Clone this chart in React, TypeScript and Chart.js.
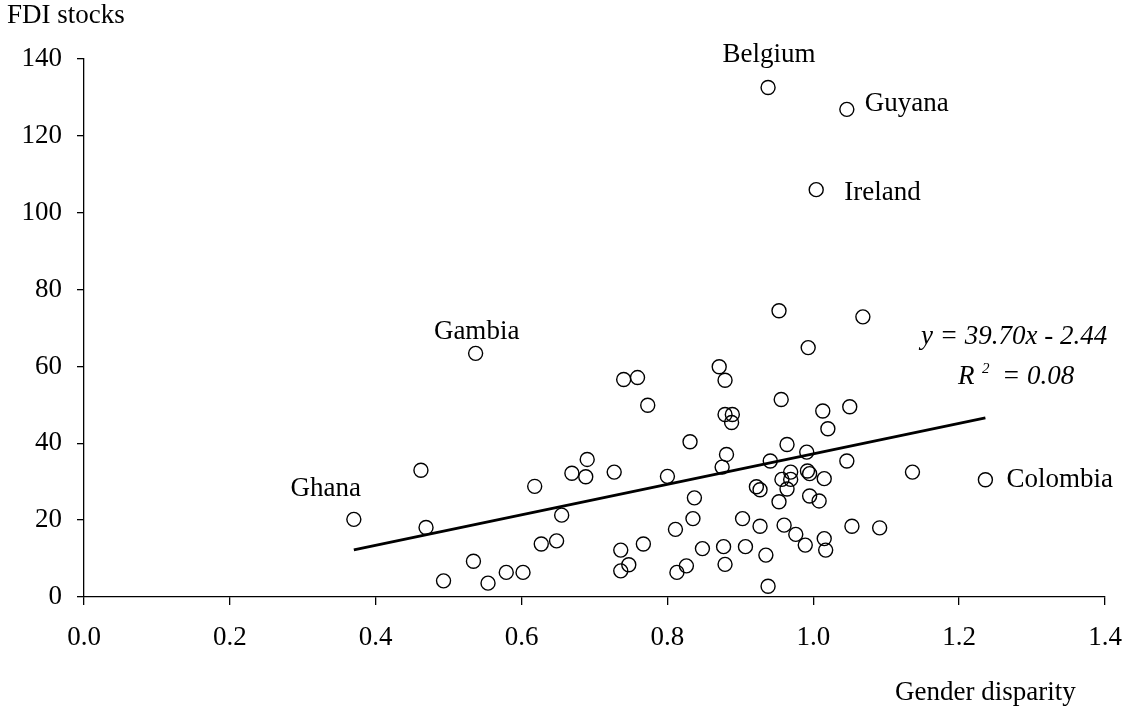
import React, { useEffect, useRef } from "react";
import { Chart, registerables } from "chart.js";

Chart.register(...registerables);

// Unlabelled countries: gender disparity (x) and FDI stocks (y)
const genderDisparity = [
  0.462, 0.469, 0.493, 0.534, 0.554, 0.579, 0.602, 0.618, 0.627, 0.648,
  0.655, 0.669, 0.688, 0.690, 0.727, 0.736, 0.736, 0.747, 0.740, 0.759,
  0.773, 0.767, 0.800, 0.811, 0.813, 0.826, 0.831, 0.837, 0.835, 0.848,
  0.871, 0.879, 0.879, 0.889, 0.888, 0.881, 0.875, 0.877, 0.879, 0.907,
  0.903, 0.922, 0.927, 0.927, 0.935, 0.938, 0.941, 0.953, 0.956, 0.957,
  0.953, 0.960, 0.964, 0.964, 0.969, 0.969, 0.976, 0.989, 0.991, 0.993,
  0.992, 0.995, 0.995, 1.008, 1.013, 1.015, 1.020, 1.015, 1.017, 1.046,
  1.050, 1.053, 1.068, 1.091, 1.136,
];
const fdiStocks = [
  33.0, 18.1, 4.2, 9.3, 3.6, 6.4, 6.4, 28.8, 13.8, 14.6,
  21.3, 32.2, 31.3, 35.8, 32.5, 12.2, 6.8, 8.4, 56.6, 57.1,
  49.9, 13.8, 31.4, 17.6, 6.4, 8.1, 40.4, 25.8, 20.4, 12.6,
  59.9, 56.4, 47.5, 47.5, 45.4, 37.1, 33.8, 13.1, 8.5, 13.1,
  20.4, 28.7, 27.9, 18.4, 10.9, 2.8, 35.4, 74.5, 51.4, 30.6,
  24.8, 18.7, 28.1, 39.7, 32.5, 30.6, 16.3, 13.5, 37.7, 64.9,
  32.8, 32.1, 26.3, 25.0, 48.4, 30.8, 43.8, 15.2, 12.2, 35.4,
  49.5, 18.4, 72.9, 18.0, 32.5,
];

// Labelled countries
const labelNames = ["Ghana", "Gambia", "Belgium", "Guyana", "Ireland", "Colombia"];
const labelX = [0.370, 0.537, 0.938, 1.046, 1.004, 1.236];
const labelY = [20.2, 63.4, 132.6, 126.9, 106.0, 30.5];

// Trend line (from the equation shown)
const trendSlope = 39.70;
const trendIntercept = -2.44;
const equationText = "y = 39.70x - 2.44";
const r2Text = "= 0.08";

const xTicks = [0, 0.2, 0.4, 0.6, 0.8, 1.0, 1.2, 1.4];
const yTicks = [0, 20, 40, 60, 80, 100, 120, 140];
const xTitle = "Gender disparity";
const yTitle = "FDI stocks";

const FONT = "'Liberation Serif', 'Times New Roman', serif";
const FS = 27;

const labelPlacement: Record<string, { dx: number; dy: number; align: CanvasTextAlign }> = {
  Ghana: { dx: -28, dy: -30, align: "center" },
  Gambia: { dx: 1, dy: -21, align: "center" },
  Belgium: { dx: 1, dy: -33, align: "center" },
  Guyana: { dx: 18, dy: -5, align: "left" },
  Ireland: { dx: 28, dy: 3, align: "left" },
  Colombia: { dx: 21, dy: 0, align: "left" },
};

export default function App() {
  const canvasRef = useRef<HTMLCanvasElement | null>(null);

  useEffect(() => {
    const canvas = canvasRef.current;
    if (!canvas) return;

    const allX = genderDisparity.concat(labelX);
    const xMin = Math.min(...allX);
    const xMax = Math.max(...allX);

    const textPlugin = {
      id: "textPlugin",
      afterDraw(chart: any) {
        const ctx = chart.ctx;
        ctx.save();
        ctx.fillStyle = "#000";
        ctx.textBaseline = "middle";
        // axis titles
        ctx.font = `${FS}px ${FONT}`;
        ctx.textAlign = "left";
        ctx.fillText(yTitle, 7, 16);
        ctx.fillText(xTitle, 895, 693);
        // country labels
        const meta = chart.getDatasetMeta(1);
        labelNames.forEach((name, i) => {
          const pt = meta.data[i];
          const p = labelPlacement[name];
          ctx.textAlign = p.align;
          ctx.fillText(name, pt.x + p.dx, pt.y + p.dy);
        });
        // equation
        ctx.font = `italic ${FS}px ${FONT}`;
        ctx.textAlign = "left";
        ctx.fillText(equationText, 921, 337);
        ctx.fillText("R", 958, 377);
        ctx.font = `italic 15px ${FONT}`;
        ctx.fillText("2", 982, 369);
        ctx.font = `italic ${FS}px ${FONT}`;
        ctx.fillText(r2Text, 1002, 377);
        ctx.restore();
      },
    };

    const pointStyle = {
      pointRadius: 7,
      pointHoverRadius: 7,
      pointBorderWidth: 1.4,
      pointBorderColor: "#000",
      pointBackgroundColor: "rgba(0,0,0,0)",
      showLine: false,
    };

    const chart = new Chart(canvas, {
      type: "scatter",
      data: {
        datasets: [
          {
            data: genderDisparity.map((x, i) => ({ x, y: fdiStocks[i] })),
            ...pointStyle,
          },
          {
            data: labelX.map((x, i) => ({ x, y: labelY[i] })),
            ...pointStyle,
          },
          {
            data: [
              { x: xMin, y: trendSlope * xMin + trendIntercept },
              { x: xMax, y: trendSlope * xMax + trendIntercept },
            ],
            showLine: true,
            borderColor: "#000",
            borderWidth: 2.8,
            pointRadius: 0,
            pointHoverRadius: 0,
          },
        ],
      },
      options: {
        animation: false,
        responsive: false,
        events: [],
        layout: { padding: { top: 59, right: 18, left: 0, bottom: 0 }, autoPadding: false },
        plugins: { legend: { display: false }, tooltip: { enabled: false } },
        scales: {
          x: {
            type: "linear",
            min: 0,
            max: 1.4,
            afterFit: (s: any) => {
              s.height = 112;
              s.paddingLeft = 0;
              s.paddingRight = 0;
            },
            afterBuildTicks: (s: any) => { s.ticks = xTicks.map((v) => ({ value: v })); },
            grid: { drawOnChartArea: false, drawTicks: true, tickLength: 8, color: "#000", lineWidth: 1.3 },
            border: { color: "#000", width: 1.3 },
            ticks: {
              color: "#000",
              font: { family: FONT, size: FS },
              padding: 17,
              maxRotation: 0,
              callback: (v: any) => Number(v).toFixed(1),
            },
          },
          y: {
            type: "linear",
            min: 0,
            max: 140,
            afterFit: (s: any) => {
              s.width = 84;
              s.paddingTop = 0;
              s.paddingBottom = 0;
            },
            afterBuildTicks: (s: any) => { s.ticks = yTicks.map((v) => ({ value: v })); },
            grid: { drawOnChartArea: false, drawTicks: true, tickLength: 7, color: "#000", lineWidth: 1.3 },
            border: { color: "#000", width: 1.3 },
            ticks: {
              color: "#000",
              font: { family: FONT, size: FS },
              padding: 15,
              callback: (v: any) => String(v),
            },
          },
        },
      },
      plugins: [textPlugin],
    });

    return () => chart.destroy();
  }, []);

  return (
    <div style={{ position: "fixed", left: 0, top: 0, width: 1123, height: 709, background: "#fff" }}>
      <canvas ref={canvasRef} width={1123} height={709} style={{ width: 1123, height: 709 }} />
    </div>
  );
}
